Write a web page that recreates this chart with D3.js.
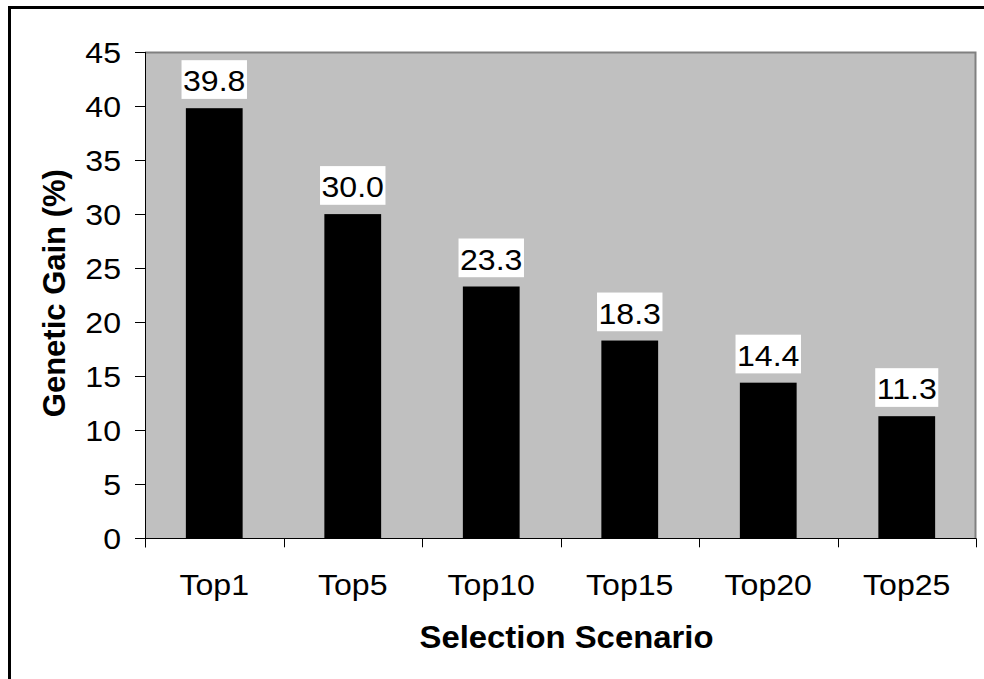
<!DOCTYPE html>
<html>
<head>
<meta charset="utf-8">
<script src="https://cdn.jsdelivr.net/npm/d3@7"></script>
<style>
  html, body { margin: 0; padding: 0; background: #fff; }
  svg { display: block; font-family: "Liberation Sans", Arial, sans-serif; }
</style>
</head>
<body>
<svg id="chart" width="984" height="679"></svg>
<script>
const categories = ["Top1", "Top5", "Top10", "Top15", "Top20", "Top25"];
const values = [39.8, 30.0, 23.3, 18.3, 14.4, 11.3];
const yTicks = [0, 5, 10, 15, 20, 25, 30, 35, 40, 45];
const xTitle = "Selection Scenario";
const yTitle = "Genetic Gain (%)";

const svg = d3.select("#chart");
const W = 984, H = 679;
const plot = { left: 145, right: 976, top: 52, bottom: 538.3 };
const SX = 1.07; // horizontal text stretch to match reference glyph widths

function addText(g, x, y, str, size, anchor, weight, sx) {
  return g.append("text")
    .attr("transform", `translate(${x},${y}) scale(${sx || SX},1)`)
    .attr("text-anchor", anchor || "middle")
    .attr("font-size", size)
    .attr("font-weight", weight || "normal")
    .attr("fill", "#000")
    .text(str);
}

// outer border
svg.append("rect")
  .attr("x", 9.5).attr("y", 7.5)
  .attr("width", W + 20).attr("height", H + 20)
  .attr("fill", "none").attr("stroke", "#000").attr("stroke-width", 3);

const x = d3.scaleBand().domain(categories).range([plot.left, plot.right]).paddingInner(0.59).paddingOuter(0.295);
const y = d3.scaleLinear().domain([0, 45]).range([plot.bottom, plot.top]);

// plot area
svg.append("rect")
  .attr("x", plot.left).attr("y", plot.top)
  .attr("width", plot.right - plot.left).attr("height", plot.bottom - plot.top)
  .attr("fill", "#c0c0c0");
svg.append("path")
  .attr("d", `M${plot.left},${plot.top + 0.5}H${plot.right - 0.5}V${plot.bottom}`)
  .attr("fill", "none").attr("stroke", "#808080").attr("stroke-width", 2);

// bars
svg.append("g").selectAll("rect").data(values).join("rect")
  .attr("x", (d, i) => x(categories[i]))
  .attr("y", d => y(d))
  .attr("width", x.bandwidth())
  .attr("height", d => y(0) - y(d))
  .attr("fill", "#000");

// data labels
const lbl = svg.append("g");
values.forEach((d, i) => {
  const cx = x(categories[i]) + x.bandwidth() / 2;
  const base = y(d) - 17;
  const t = addText(lbl, cx, base, d.toFixed(1), 30);
  const w = t.node().getBBox().width * SX;
  lbl.insert("rect", "text")
    .attr("x", cx - w / 2 - 1.5).attr("y", base - 31)
    .attr("width", w + 3).attr("height", 38.7)
    .attr("fill", "#fff");
});

// y axis
const yAxis = svg.append("g");
yAxis.append("line")
  .attr("x1", plot.left + 0.5).attr("x2", plot.left + 0.5)
  .attr("y1", plot.top).attr("y2", plot.bottom + 9)
  .attr("stroke", "#000");
yTicks.forEach(t => {
  yAxis.append("line")
    .attr("x1", plot.left - 10).attr("x2", plot.left)
    .attr("y1", Math.round(y(t)) + 0.5).attr("y2", Math.round(y(t)) + 0.5)
    .attr("stroke", "#000");
  addText(yAxis, 121, y(t) + 10.7, t, 30, "end");
});

// x axis
const xAxis = svg.append("g");
xAxis.append("line")
  .attr("x1", plot.left - 10).attr("x2", plot.right)
  .attr("y1", Math.round(plot.bottom) + 0.5).attr("y2", Math.round(plot.bottom) + 0.5)
  .attr("stroke", "#000");
d3.range(categories.length + 1).forEach(i => {
  const xx = Math.round(plot.left + i * (plot.right - plot.left) / categories.length) + 0.5;
  xAxis.append("line")
    .attr("x1", xx).attr("x2", xx)
    .attr("y1", plot.bottom).attr("y2", plot.bottom + 9)
    .attr("stroke", "#000");
});
categories.forEach(c => {
  addText(xAxis, x(c) + x.bandwidth() / 2, 595, c, 30);
});

// titles
addText(svg, (plot.left + plot.right) / 2 + 6, 648, xTitle, 31, "middle", "bold", 1.06);
svg.append("text")
  .attr("transform", `translate(65,${(plot.top + plot.bottom) / 2 - 2}) rotate(-90)`)
  .attr("text-anchor", "middle")
  .attr("font-size", 31).attr("font-weight", "bold")
  .text(yTitle);
</script>
</body>
</html>
